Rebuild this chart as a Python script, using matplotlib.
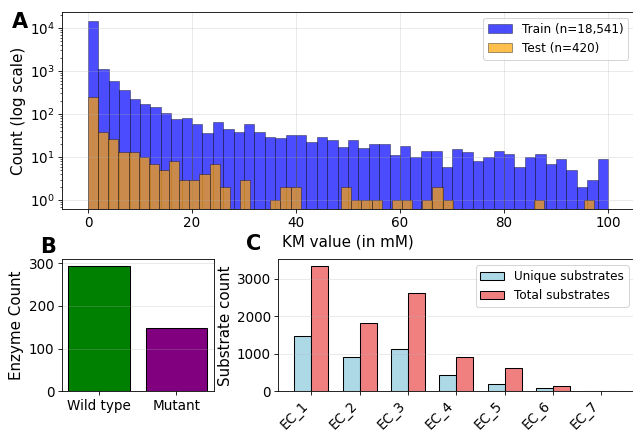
import numpy as np
import matplotlib
matplotlib.use("Agg")
import matplotlib.pyplot as plt

# panel A: KM histograms (counts per bin)
train_edges = np.linspace(0, 100, 51)
train_counts = [14800, 1095, 575, 360, 228, 174, 143, 104, 75, 82,
                60, 37, 66, 45, 38, 60, 39, 29, 28, 33,
                32, 22, 29, 25, 17, 25, 16, 20, 20, 11,
                18, 10, 14, 14, 6, 15, 13, 8, 10, 14,
                12, 6, 10, 12, 7, 9, 5, 2, 3, 9]
test_edges = np.linspace(0, 97.4, 51)
test_counts = [250, 38, 26, 13, 13, 10, 7, 5, 8, 3,
               3, 4, 7, 2, 0, 3, 0, 0, 1, 2,
               2, 0, 0, 0, 0, 2, 1, 1, 1, 0,
               1, 1, 0, 1, 2, 1, 0, 0, 0, 0,
               0, 0, 0, 0, 1, 0, 0, 0, 0, 1]

# panel B
enzyme_types = ["Wild type", "Mutant"]
enzyme_counts = [294, 148]

# panel C
ec_classes = ["EC_1", "EC_2", "EC_3", "EC_4", "EC_5", "EC_6", "EC_7"]
unique_subs = [1460, 903, 1131, 425, 202, 88, 5]
total_subs = [3345, 1805, 2618, 918, 610, 141, 9]

W, H = 633, 431
fig = plt.figure(figsize=(W / 75, H / 75), dpi=75)

LABEL, TICK, LEG = 14.5, 13, 11.5


def box(l, t, r, b):
    return [l / W, 1 - b / H, (r - l) / W, (b - t) / H]


# ---- A
ax1 = fig.add_axes(box(62, 12, 634, 209))
tr = np.array(train_edges)
te = np.array(test_edges)
ax1.bar(tr[:-1], train_counts, width=np.diff(tr), align="edge", color="blue",
        alpha=0.7, edgecolor="black", linewidth=0.5, label="Train (n=18,541)")
ax1.bar(te[:-1], test_counts, width=np.diff(te), align="edge", color="orange",
        alpha=0.7, edgecolor="black", linewidth=0.5, label="Test (n=420)")
ax1.set_yscale("log")
ax1.set_xlim(-5, 105)
ax1.set_ylim(0.62, 23500)
ax1.set_xlabel("KM value (in mM)", fontsize=LABEL)
ax1.set_ylabel("Count (log scale)", fontsize=LABEL)
ax1.tick_params(labelsize=TICK)
ax1.grid(alpha=0.3)
ax1.legend(fontsize=LEG, loc="upper right")

# ---- B
ax2 = fig.add_axes(box(61.5, 259.3, 214.3, 391.3))
ax2.bar(enzyme_types, enzyme_counts, color=["green", "purple"], edgecolor="black")
ax2.set_ylabel("Enzyme Count", fontsize=LABEL)
ax2.tick_params(labelsize=TICK)
ax2.grid(axis="y", alpha=0.3)

# ---- C
ax3 = fig.add_axes(box(278.3, 259.3, 634.5, 391.3))
x = np.arange(len(ec_classes))
w = 0.35
ax3.bar(x - w / 2, unique_subs, w, color="lightblue", edgecolor="black",
        label="Unique substrates")
ax3.bar(x + w / 2, total_subs, w, color="lightcoral", edgecolor="black",
        label="Total substrates")
ax3.set_xticks(x)
ax3.set_xticklabels(ec_classes, rotation=45, ha="right")
ax3.set_ylabel("Substrate count", fontsize=LABEL)
ax3.tick_params(labelsize=TICK)
ax3.grid(axis="y", alpha=0.3)
ax3.legend(fontsize=LEG, loc="upper right")

fig.text(12 / W, 1 - 28 / H, "A", fontsize=20, fontweight="bold")
fig.text(40 / W, 1 - 253 / H, "B", fontsize=20, fontweight="bold")
fig.text(246 / W, 1 - 250 / H, "C", fontsize=20, fontweight="bold")

fig.savefig("out.png", dpi=75)
